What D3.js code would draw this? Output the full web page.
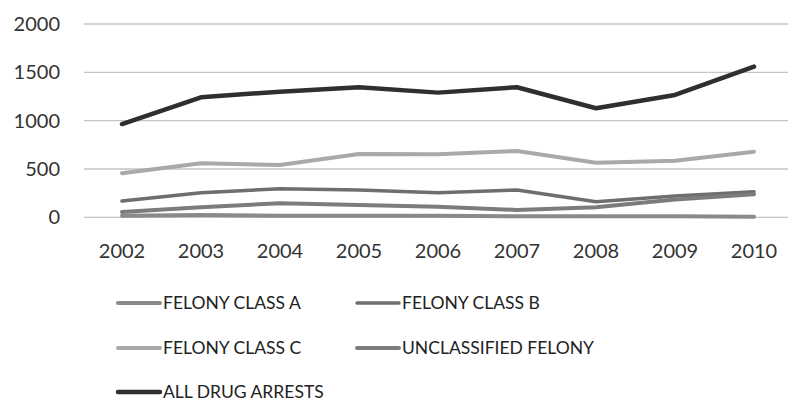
<!DOCTYPE html>
<html>
<head>
<meta charset="utf-8">
<title>Drug Arrests</title>
<style>
    body { margin: 0; background: #fff; }
    svg { display: block; font-family: Lato, "Open Sans", sans-serif; }
    .grid line { stroke: #c4c4c4; stroke-width: 1.3px; }
    .tick-label { fill: #333; font-size: 20px; }
    .legend text { fill: #222; font-size: 17.5px; }
</style>
</head>
<body>
<svg></svg>
<script src="https://d3js.org/d3.v7.min.js"></script>
<script>
    // data
    const years = ["2002", "2003", "2004", "2005", "2006", "2007", "2008", "2009", "2010"];
    const yTicks = [0, 500, 1000, 1500, 2000];
    const felonyA = [15, 24, 15, 15, 15, 10, 12, 10, 5];
    const felonyB = [169, 255, 296, 283, 255, 283, 160, 220, 265];
    const felonyC = [455, 559, 541, 655, 652, 686, 565, 586, 679];
    const unclassified = [55, 103, 145, 127, 110, 76, 105, 185, 238];
    const allArrests = [965, 1242, 1300, 1346, 1290, 1346, 1128, 1266, 1559];

    const seriesNames = ["FELONY CLASS A", "FELONY CLASS B", "FELONY CLASS C", "UNCLASSIFIED FELONY", "ALL DRUG ARRESTS"];
    const seriesValues = [felonyA, felonyB, felonyC, unclassified, allArrests];
    const colors = ["#8a8a8a", "#6e6e6e", "#a9a9a9", "#7c7c7c", "#2f2f2f"];
    const widths = [4, 3.5, 4, 4, 4.5];

    const svgWidth = 788, svgHeight = 403;
    const svg = d3.select("svg")
        .attr("width", svgWidth)
        .attr("height", svgHeight);

    const x = d3.scalePoint().domain(years).range([82.5, 793.5]).padding(0.5);
    const y = d3.scaleLinear().domain([0, 2000]).range([217.3, 24]);

    // gridlines
    svg.append("g").attr("class", "grid")
        .selectAll("line")
        .data(yTicks)
        .join("line")
        .attr("x1", 84)
        .attr("x2", svgWidth)
        .attr("y1", d => y(d))
        .attr("y2", d => y(d));

    // y labels
    svg.append("g")
        .selectAll("text")
        .data(yTicks)
        .join("text")
        .attr("class", "tick-label")
        .attr("x", 60)
        .attr("y", d => y(d))
        .attr("dy", "0.35em")
        .attr("text-anchor", "end")
        .text(d => d);

    // x labels
    svg.append("g")
        .selectAll("text")
        .data(years)
        .join("text")
        .attr("class", "tick-label")
        .attr("x", d => x(d))
        .attr("y", 258)
        .attr("text-anchor", "middle")
        .text(d => d);

    const line = d3.line()
        .x((d, i) => x(years[i]))
        .y(d => y(d));

    svg.append("g")
        .selectAll("path")
        .data(seriesValues)
        .join("path")
        .attr("fill", "none")
        .attr("stroke", (d, i) => colors[i])
        .attr("stroke-width", (d, i) => widths[i])
        .attr("stroke-linejoin", "round")
        .attr("stroke-linecap", "round")
        .attr("d", line);

    // legend
    const legendPos = [[118, 303], [357, 303], [118, 348], [357, 348], [118, 392]];
    const legend = svg.append("g").attr("class", "legend")
        .selectAll("g")
        .data(seriesNames)
        .join("g")
        .attr("transform", (d, i) => "translate(" + legendPos[i][0] + "," + legendPos[i][1] + ")");

    legend.append("line")
        .attr("x1", 0).attr("x2", 42)
        .attr("stroke", (d, i) => colors[i])
        .attr("stroke-width", (d, i) => widths[i])
        .attr("stroke-linecap", "round");

    legend.append("text")
        .attr("x", 45)
        .attr("dy", "0.35em")
        .text(d => d);
</script>
</body>
</html>
